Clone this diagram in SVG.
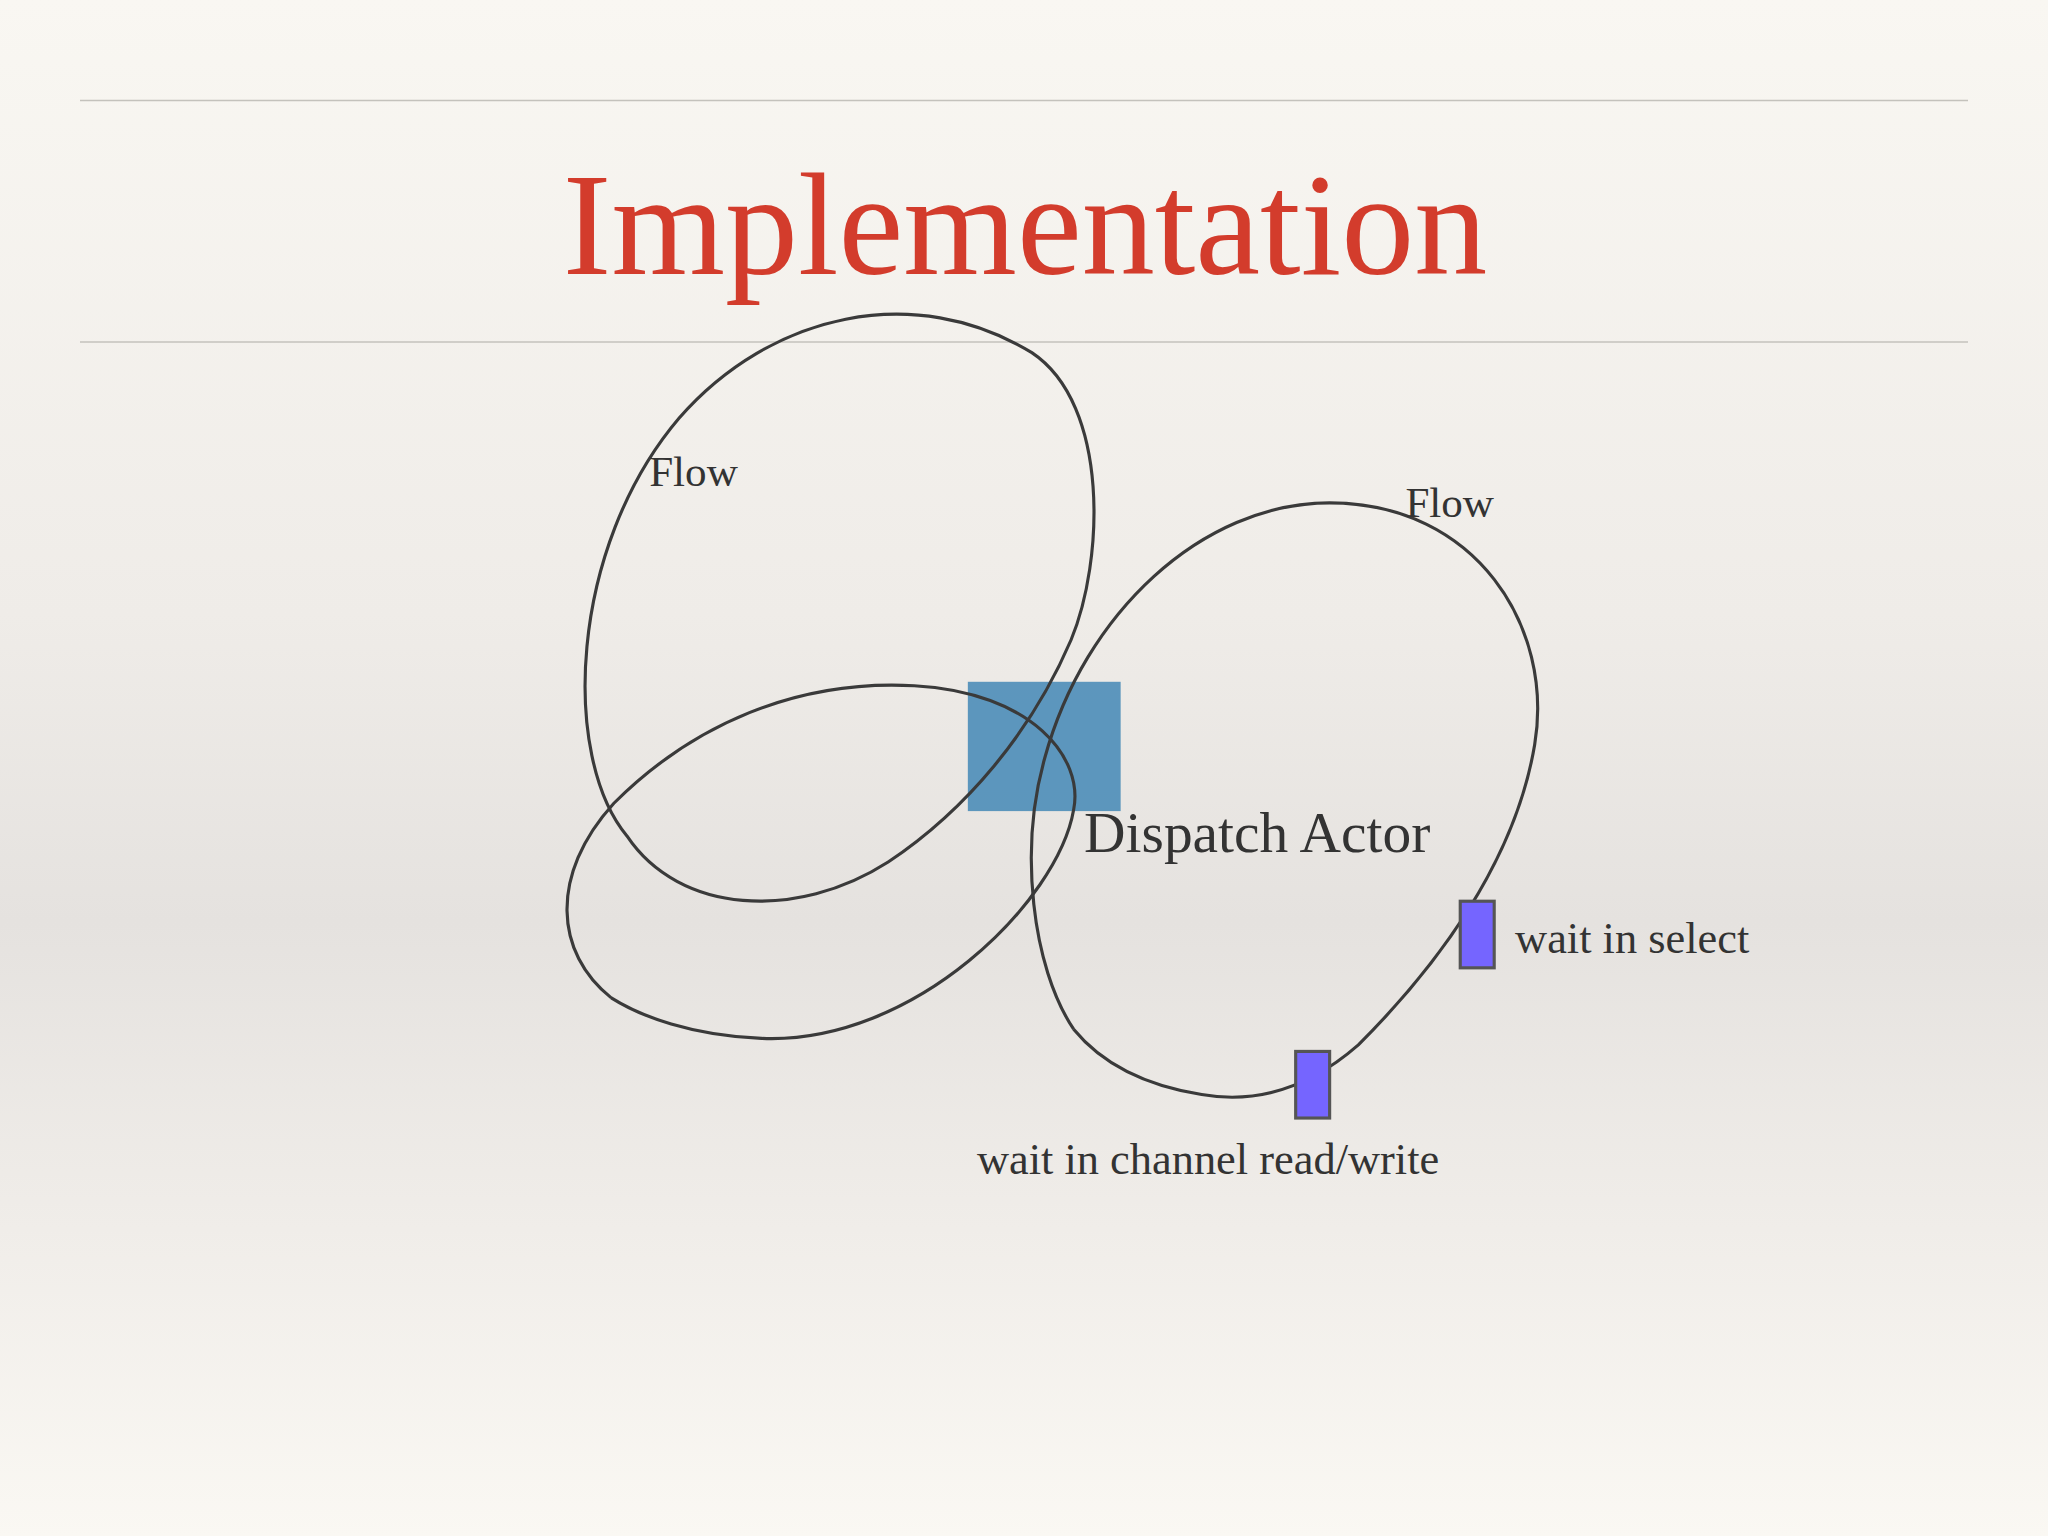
<svg xmlns="http://www.w3.org/2000/svg" width="2048" height="1536" viewBox="0 0 2048 1536">
<defs>
<linearGradient id="bg" x1="0" y1="0" x2="0" y2="1">
<stop offset="0" stop-color="#f9f7f2"/>
<stop offset="0.4" stop-color="#efece8"/>
<stop offset="0.6" stop-color="#e5e2df"/>
<stop offset="0.8" stop-color="#f0ede9"/>
<stop offset="1" stop-color="#faf8f3"/>
</linearGradient>
<style>
.loop{fill:none;stroke:#3a3a3a;stroke-width:2.4}
.t{font-family:"Liberation Serif",serif;fill:#333}
.w{fill:#7565ff;stroke:#555;stroke-width:2.4}
</style>
</defs>
<rect width="2048" height="1536" fill="url(#bg)"/>
<line x1="80" y1="100.5" x2="1968" y2="100.5" stroke="#c4c2bc" stroke-width="1.5"/>
<line x1="80" y1="342" x2="1968" y2="342" stroke="#c4c2bc" stroke-width="1.5"/>
<text x="1025" y="274" text-anchor="middle" font-family="Liberation Serif, serif" font-size="146" fill="#d33c2c">Implementation</text>
<g transform="scale(1.30612)">
<g id="dispatch"><rect x="741" y="522" width="117" height="99" fill="#4d8db8" opacity="0.9"/></g>
<g id="connectors">
<path class="loop" d="M 480 640 C 430 580, 435 420, 520 320 C 590 240, 700 215, 790 270 C 850 310, 845 430, 820 490 C 790 560, 740 620, 680 660 C 610 705, 520 700, 480 640"/>
<path class="loop" d="M 468 764 C 425 730, 420 670, 470 615 C 530 555, 610 520, 700 525 C 790 530, 830 580, 822 620 C 810 690, 700 800, 583 795 C 530 793, 490 778, 468 764"/>
<path class="loop" d="M 822 788 C 790 740, 780 650, 800 580 C 830 470, 920 385, 1018 385 C 1130 385, 1190 480, 1175 570 C 1160 660, 1100 740, 1040 800 C 1000 835, 960 845, 920 838 C 870 830, 840 810, 822 788"/>
</g>
<g id="w1"><rect class="w" x="1118" y="690" width="26" height="51"/></g>
<g id="w2"><rect class="w" x="992" y="805" width="26" height="51"/></g>
<g id="labels">
<text class="t" x="497" y="372" font-size="33">Flow</text>
<text class="t" x="1076" y="396" font-size="33">Flow</text>
<text class="t" x="830" y="652" font-size="44">Dispatch Actor</text>
<text class="t" x="1160" y="730" font-size="34">wait in select</text>
<text class="t" x="748" y="899" font-size="34">wait in channel read/write</text>
</g>
</g>
</svg>
